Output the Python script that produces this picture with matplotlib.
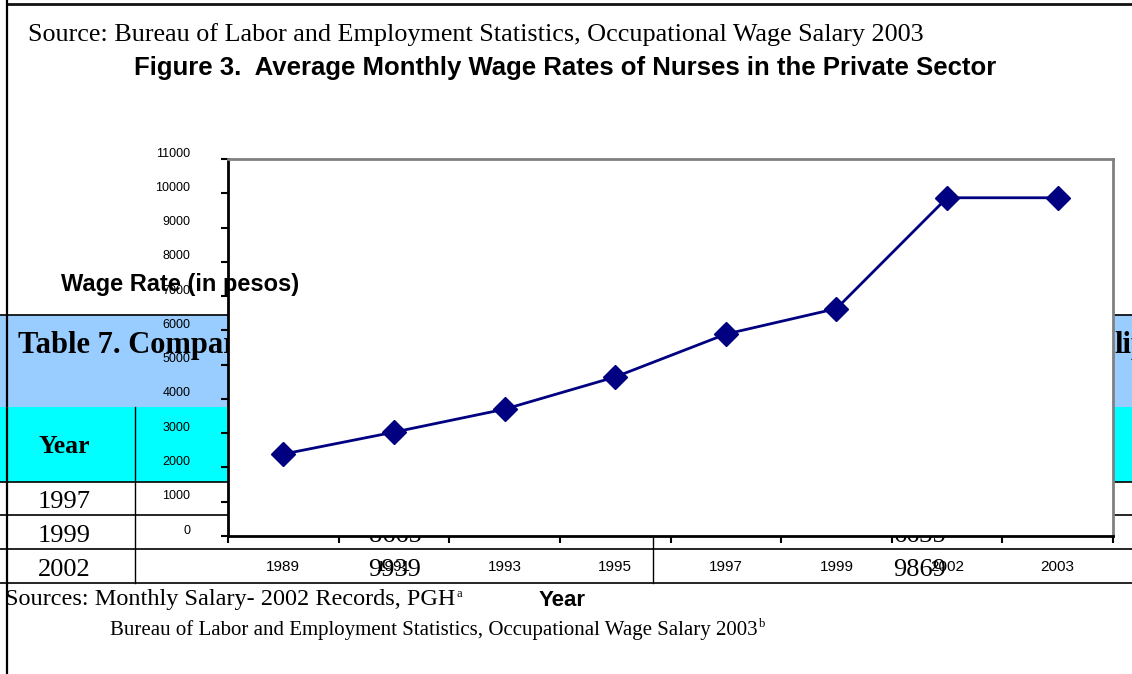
import matplotlib
matplotlib.use("Agg")
import matplotlib.pyplot as plt
import matplotlib.transforms as mtransforms
from matplotlib.patches import Rectangle

# chart data (Figure 3)
years = ['1989', '1991', '1993', '1995', '1997', '1999', '2002', '2003']
wages = [2390, 3030, 3700, 4640, 5890, 6635, 9869, 9869]
y_ticks = list(range(0, 11001, 1000))

# table underneath (Table 7), only partly visible
table_years = ['1997', '1999', '2002']
pgh_salary = ['', '8665', '9939']
private_salary = ['', '6635', '9869']

SERIF = ['Liberation Serif', 'DejaVu Serif']
SANS = ['Liberation Sans', 'DejaVu Sans']

W, H = 1132, 674
fig = plt.figure(figsize=(W / 100, H / 100), dpi=100)
fig.patch.set_facecolor('white')

# background page, pixel coordinates
bg = fig.add_axes([0, 0, 1, 1], zorder=0)
bg.set_xlim(0, W)
bg.set_ylim(H, 0)
bg.axis('off')

bg.add_patch(Rectangle((0, 315), W, 92, facecolor='#99CCFF', edgecolor='none'))
bg.add_patch(Rectangle((0, 407), W, 75, facecolor='#00FFFF', edgecolor='none'))
for y in [315, 482, 515, 549, 583]:
    bg.plot([0, W], [y, y], color='black', lw=1.2)
bg.plot([135, 135], [407, 583], color='black', lw=1.0)
bg.plot([653, 653], [407, 583], color='black', lw=1.0)
bg.plot([7, W], [4, 4], color='#111111', lw=2)
bg.plot([7, 7], [0, H], color='black', lw=1.6)

bg.text(18, 353, 'Table 7. Comparison of Monthly Salaries of Nurses in Government',
        fontsize=22, fontweight='bold', family=SERIF, va='baseline', ha='left')
bg.text(1114, 353, 'lippines', fontsize=22, fontweight='bold', family=SERIF,
        va='baseline', ha='left')
bg.text(64, 453, 'Year', fontsize=18.5, fontweight='bold', family=SERIF,
        va='baseline', ha='center')
row_base = [508, 542, 576]
for i, yr in enumerate(table_years):
    bg.text(64, row_base[i], yr, fontsize=19, family=SERIF, va='baseline', ha='center')
    bg.text(395, row_base[i], pgh_salary[i], fontsize=19, family=SERIF, va='baseline', ha='center')
    bg.text(920, row_base[i], private_salary[i], fontsize=19, family=SERIF, va='baseline', ha='center')

bg.text(28, 35, 'Source: Bureau of Labor and Employment Statistics, Occupational Wage Salary 2003',
        fontsize=18.8, family=SERIF, va='center', ha='left')
s1 = bg.text(5, 600, 'Sources: Monthly Salary- 2002 Records, PGH', fontsize=17.5,
             family=SERIF, va='center', ha='left')
bg.annotate('a', xy=(1.0, 0.5), xycoords=s1, xytext=(1, 0), textcoords='offset points',
            fontsize=9, family=SERIF, va='bottom')
s2 = bg.text(110, 630, 'Bureau of Labor and Employment Statistics, Occupational Wage Salary 2003',
             fontsize=15, family=SERIF, va='center', ha='left')
bg.annotate('b', xy=(1.0, 0.5), xycoords=s2, xytext=(1, 0), textcoords='offset points',
            fontsize=9, family=SERIF, va='bottom')

# the chart
left, right, top, bottom = 228, 1113, 159, 536
ax = fig.add_axes([left / W, 1 - bottom / H, (right - left) / W, (bottom - top) / H], zorder=1)
ax.set_facecolor('white')

x = list(range(len(years)))
ax.plot(x, wages, color='#000080', lw=2, marker='D', markersize=12,
        markerfacecolor='#000080', markeredgecolor='#000080')

ax.set_xlim(-0.5, len(years) - 0.5)
ax.set_ylim(0, 11000)
ax.set_yticks(y_ticks)
ax.set_yticklabels([str(v) for v in y_ticks], family=SANS, fontsize=9)
ax.set_xticks(x)
ax.set_xticklabels(years, family=SANS, fontsize=11)
ax.set_xticks([i - 0.5 for i in range(len(years) + 1)], minor=True)
ax.tick_params(axis='x', which='major', length=0, pad=17)
ax.tick_params(axis='x', which='minor', direction='out', length=5, width=1.5, color='black')
ax.tick_params(axis='y', direction='out', length=5, width=1.5, color='black', pad=22)

shift = mtransforms.ScaledTranslation(0, 7 / 100, fig.dpi_scale_trans)
for lab in ax.get_yticklabels():
    lab.set_transform(lab.get_transform() + shift)

for side in ['left', 'bottom']:
    ax.spines[side].set_color('black')
    ax.spines[side].set_linewidth(2)
for side in ['top', 'right']:
    ax.spines[side].set_color('#808080')
    ax.spines[side].set_linewidth(2)

fig.text(565 / W, 1 - 68 / H, 'Figure 3.  Average Monthly Wage Rates of Nurses in the Private Sector',
         fontsize=18.5, fontweight='bold', family=SANS, ha='center', va='center', zorder=5)
fig.text(180 / W, 1 - 285 / H, 'Wage Rate (in pesos)', fontsize=17, fontweight='bold',
         family=SANS, ha='center', va='center', zorder=5)
fig.text(562 / W, 1 - 600 / H, 'Year', fontsize=16, fontweight='bold',
         family=SANS, ha='center', va='center', zorder=5)

fig.savefig('out.png', dpi=100)
